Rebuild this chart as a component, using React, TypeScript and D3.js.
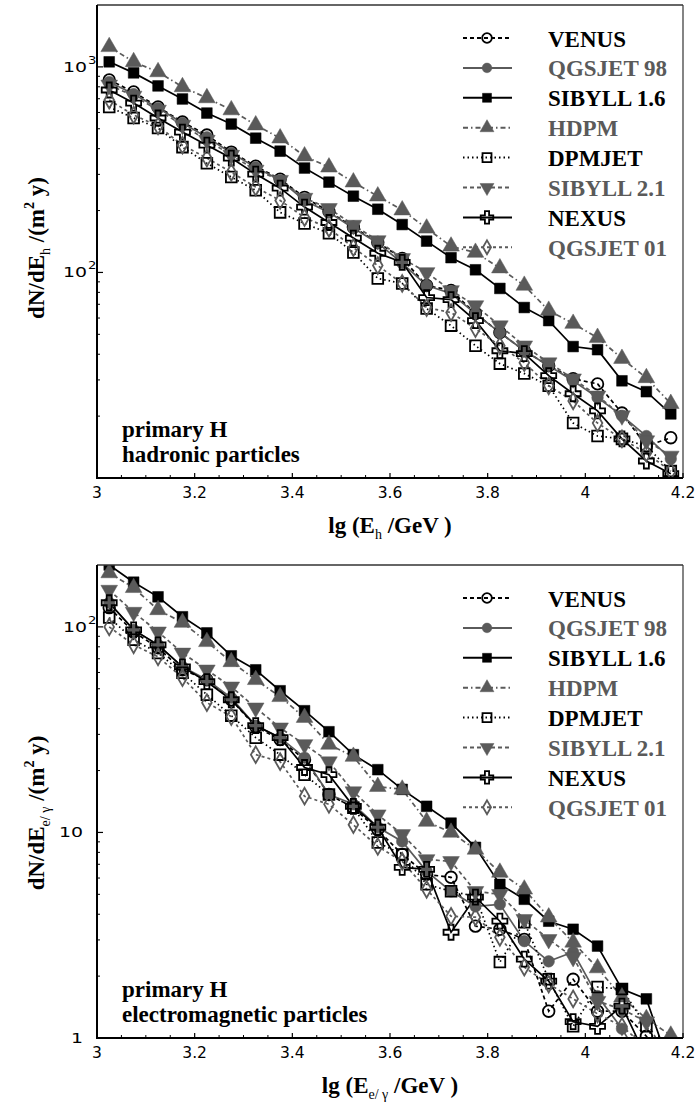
import React from "react";
import * as d3 from "d3";

// energy bins, lg(E/GeV)
const lgE = [3.025, 3.075, 3.125, 3.175, 3.225, 3.275, 3.325, 3.375, 3.425, 3.475, 3.525, 3.575,
  3.625, 3.675, 3.725, 3.775, 3.825, 3.875, 3.925, 3.975, 4.025, 4.075, 4.125, 4.175];

const models = ["VENUS", "QGSJET 98", "SIBYLL 1.6", "HDPM", "DPMJET", "SIBYLL 2.1", "NEXUS", "QGSJET 01"];

// hadronic particles, dN/dE_h  /(m^2 y)
const hadVenus = [864, 755, 638, 539, 466, 385, 329, 284, 232, 198, 166, 140, 117, 86.4, 81.7, 63.1, 51.0, 41.6, 35.2, 30.4, 28.7, 20.7, 14.3, 15.7];
const hadQgs98 = [845, 738, 631, 533, 455, 381, 325, 281, 224, 196, 164, 139, 111, 86.4, 79.0, 63.1, 51.0, 41.6, 35.2, 29.7, 24.6, 20.1, 16.0, 12.4];
const hadSib16 = [1058, 935, 808, 698, 596, 527, 450, 389, 322, 275, 235, 203, 171, 142, 118, 103, 83.6, 67.5, 58.3, 43.6, 42.1, 29.7, 26.3, 20.5];
const hadHdpm = [1252, 1058, 945, 799, 706, 617, 521, 450, 368, 325, 275, 235, 201, 164, 134, 125, 105, 86.4, 65.3, 56.4, 48.2, 38.1, 30.7, 23.0];
const hadDpmjet = [638, 564, 504, 407, 340, 291, 251, 196, 173, 155, 125, 93.5, 88.4, 66.7, 55.1, 44.0, 36.0, 32.2, 28.1, 18.5, 16.0, 15.5, 14.3, 10.8];
const hadSib21 = [817, 722, 617, 521, 440, 372, 315, 281, 230, 205, 170, 143, 117, 100, 81.7, 69.0, 55.1, 44.0, 36.4, 30.4, 25.1, 20.1, 15.2, 12.8];
const hadNexus = [772, 667, 564, 482, 416, 360, 301, 257, 208, 175, 147, 124, 112, 75.5, 73.8, 58.3, 41.6, 40.3, 31.5, 25.7, 21.2, 15.5, 12.1, 10.5];
const hadQgs01 = [690, 583, 516, 416, 360, 307, 260, 224, 185, 164, 132, 108, 88.4, 67.5, 63.8, 53.3, 44.0, 36.4, 28.1, 23.7, 18.5, 15.5, 13.2, 10.8];

// electromagnetic particles, dN/dE_e/g  /(m^2 y)
const emVenus = [124, 94.6, 79.1, 61.8, 55.3, 44.2, 32.7, 28.3, 22.6, 15.3, 13.2, 10.3, 7.82, 6.25, 6.05, 3.5, 3.38, 3.02, 1.35, 1.93, 1.35, 1.35, 1.02, 0.7];
const emQgs98 = [131, 96.7, 81.8, 63.9, 55.3, 45.2, 33.1, 28.9, 23.1, 15.3, 13.7, 10.6, 9.04, 6.47, 5.17, 4.37, 4.47, 2.96, 2.36, 2.62, 1.6, 1.11, 0.7, 0.5];
const emSib16 = [200, 165, 140, 112, 93.5, 72.3, 61.8, 48.9, 39.1, 30.9, 23.9, 20.2, 16.2, 13.4, 11.1, 8.46, 5.59, 4.73, 3.7, 3.38, 2.8, 1.73, 1.55, 0.7];
const emHdpm = [183, 155, 121, 105, 84.6, 67.6, 55.3, 45.7, 36.2, 26.8, 23.4, 16.7, 16.2, 11.3, 10.0, 8.27, 6.39, 5.29, 3.87, 2.92, 2.19, 1.58, 1.24, 1.03];
const emDpmjet = [111, 86.5, 74.7, 59.8, 46.8, 37.0, 28.9, 23.9, 19.1, 15.3, 13.2, 8.94, 7.82, 5.59, 5.17, 4.89, 2.34, 3.66, 1.93, 1.14, 1.77, 1.73, 1.14, 0.7];
const emSib21 = [151, 118, 94.6, 74.7, 61.8, 51.1, 40.4, 32.3, 26.8, 22.1, 15.8, 12.2, 9.78, 7.39, 7.23, 5.17, 5.0, 3.78, 3.02, 2.47, 1.51, 1.38, 1.2, 0.75];
const emNexus = [131, 96.7, 81.8, 63.9, 54.1, 44.2, 33.1, 28.9, 20.7, 19.1, 13.4, 10.6, 6.76, 6.61, 3.27, 4.84, 3.7, 2.42, 1.89, 1.2, 1.14, 1.43, 0.8, 0.6];
const emQgs01 = [100, 81.8, 71.5, 56.6, 42.8, 36.6, 23.9, 22.1, 15.0, 13.7, 10.9, 8.55, 7.23, 5.29, 3.91, 3.87, 3.09, 2.21, 1.83, 1.55, 1.31, 1.14, 0.9, 0.7];

const xTicks = [3, 3.2, 3.4, 3.6, 3.8, 4, 4.2];
const xTickLabels = ["3", "3.2", "3.4", "3.6", "3.8", "4", "4.2"];
const hadYTicks = [100, 1000];
const hadYLabels = ["10^2", "10^3"];
const emYTicks = [1, 10, 100];
const emYLabels = ["1", "10", "10^2"];

const hadSeries = [hadVenus, hadQgs98, hadSib16, hadHdpm, hadDpmjet, hadSib21, hadNexus, hadQgs01];
const emSeries = [emVenus, emQgs98, emSib16, emHdpm, emDpmjet, emSib21, emNexus, emQgs01];

const GRAY = "#5a5a5a";
const SERIF = "'Liberation Serif', 'Times New Roman', serif";
const SANS = "'DejaVu Sans', sans-serif";

const look: Record<string, any> = {
  "VENUS": { color: "#000", dash: "4,3", shape: "circle", open: true },
  "QGSJET 98": { color: GRAY, dash: null, shape: "circle", open: false },
  "SIBYLL 1.6": { color: "#000", dash: null, shape: "square", open: false },
  "HDPM": { color: GRAY, dash: "5,3,1.5,3", shape: "triUp", open: false },
  "DPMJET": { color: "#000", dash: "1.5,3", shape: "square", open: true },
  "SIBYLL 2.1": { color: GRAY, dash: "4,3", shape: "triDown", open: false },
  "NEXUS": { color: "#000", dash: null, shape: "cross", open: true },
  "QGSJET 01": { color: GRAY, dash: "3,3", shape: "diamond", open: true },
};

const symType: Record<string, any> = {
  circle: d3.symbolCircle,
  square: d3.symbolSquare,
  triUp: d3.symbolTriangle,
  triDown: d3.symbolTriangle,
  cross: d3.symbolCross,
  diamond: d3.symbolDiamond,
};
const symSize: Record<string, number> = { circle: 105, square: 115, triUp: 120, triDown: 120, cross: 125, diamond: 80 };

const X0 = 97;
const X1 = 683;

function Marker({ name, cx, cy, scale = 1 }: any) {
  const s = look[name];
  const d = d3.symbol().type(symType[s.shape]).size(symSize[s.shape] * scale)()!;
  const rot = s.shape === "triDown" ? " rotate(180)" : "";
  return (
    <path
      d={d}
      transform={`translate(${cx},${cy})${rot}`}
      fill={s.open ? "none" : s.color}
      stroke={s.color}
      strokeWidth={s.open ? 1.8 : 0.5}
    />
  );
}

function Panel({ id, top, bottom, yDomain, series, yTicks, yLabels, xTitleSub, yTitleSub, yTitleMid, notes }: any) {
  const x = d3.scaleLinear().domain([3, 4.2]).range([X0, X1]);
  const y = d3.scaleLog().domain(yDomain).range([bottom, top]);
  const line = d3.line<number>().x((_, i) => x(lgE[i])).y((d) => y(d));
  const minorY = y.ticks().filter((t) => !yTicks.includes(t) && t > yDomain[0] && t < yDomain[1]);
  const minorX = d3.range(3.05, 4.2, 0.05).filter((t) => Math.abs(Math.round(t * 5) - t * 5) > 0.01);
  const legTop = top + 33;
  const legStep = 29.9;

  return (
    <g>
      <defs>
        <clipPath id={id}>
          <rect x={X0} y={top} width={X1 - X0} height={bottom - top} />
        </clipPath>
      </defs>

      {/* data */}
      <g clipPath={`url(#${id})`}>
        {models.map((m, k) => (
          <path
            key={m}
            d={line(series[k])!}
            fill="none"
            stroke={look[m].color}
            strokeWidth={1.7}
            strokeDasharray={look[m].dash || undefined}
          />
        ))}
        {models.map((m, k) =>
          series[k].map((v: number, i: number) => (
            <Marker key={m + i} name={m} cx={x(lgE[i])} cy={y(v)} />
          ))
        )}
      </g>

      {/* frame */}
      <line x1={X0} x2={X1} y1={top} y2={top} stroke="#333" strokeWidth={1.4} />
      <line x1={X1} x2={X1} y1={top} y2={bottom} stroke="#333" strokeWidth={1.2} />
      <line x1={X0} x2={X0} y1={top} y2={bottom + 1} stroke="#000" strokeWidth={2} />
      <line x1={X0 - 1} x2={X1} y1={bottom} y2={bottom} stroke="#000" strokeWidth={2} />

      {/* y ticks */}
      {yTicks.map((t: number) => (
        <line key={"yt" + t} x1={X0} x2={X0 + 6} y1={y(t)} y2={y(t)} stroke="#000" strokeWidth={1.2} />
      ))}
      {minorY.map((t: number) => (
        <line key={"ym" + t} x1={X0} x2={X0 + 3} y1={y(t)} y2={y(t)} stroke="#000" strokeWidth={1} />
      ))}
      {yTicks.map((t: number, i: number) => {
        const [base, exp] = yLabels[i].split("^");
        return exp ? (
          <g key={"yl" + t} fontFamily={SANS}>
            <text transform={`translate(87,${y(t) + 5}) scale(1.35,1)`} textAnchor="end" fontSize={14}>{base}</text>
            <text transform={`translate(88,${y(t) - 3}) scale(1.2,1)`} fontSize={11}>{exp}</text>
          </g>
        ) : (
          <text key={"yl" + t} transform={`translate(83,${y(t) + 5}) scale(1.35,1)`} textAnchor="end" fontSize={14} fontFamily={SANS}>
            {base}
          </text>
        );
      })}

      {/* x ticks */}
      {xTicks.map((t) => (
        <line key={"xt" + t} x1={x(t)} x2={x(t)} y1={bottom} y2={bottom - 5} stroke="#000" strokeWidth={1.2} />
      ))}
      {minorX.map((t) => (
        <line key={"xm" + t} x1={x(t)} x2={x(t)} y1={bottom} y2={bottom - 3} stroke="#000" strokeWidth={1} />
      ))}
      {xTicks.map((t, i) => (
        <text key={"xl" + t} x={x(t)} y={bottom + 20} textAnchor="middle" fontSize={15.5} fontFamily={SANS}>
          {xTickLabels[i]}
        </text>
      ))}

      {/* axis titles */}
      <text x={390} y={bottom + 55} textAnchor="middle" fontFamily={SERIF} fontWeight="bold" fontSize={23}>
        lg (E
        <tspan dy={6} fontSize={14} fontWeight="normal">{xTitleSub}</tspan>
        <tspan dy={-6}> /GeV )</tspan>
      </text>
      <text
        transform={`translate(44,${yTitleMid}) rotate(-90)`}
        textAnchor="middle"
        fontFamily={SERIF}
        fontWeight="bold"
        fontSize={23}
      >
        dN/dE
        <tspan dy={6} fontSize={14} fontWeight="normal">{yTitleSub}</tspan>
        <tspan dy={-6}> /(m</tspan>
        <tspan dy={-10} fontSize={14}>2</tspan>
        <tspan dy={10}> y)</tspan>
      </text>

      {/* annotation */}
      {notes.map((n: string, i: number) => (
        <text key={n} x={122} y={bottom - 41 + i * 25} fontFamily={SERIF} fontWeight="bold" fontSize={23}>
          {n}
        </text>
      ))}

      {/* legend */}
      {models.map((m, k) => {
        const cy = legTop + k * legStep;
        return (
          <g key={"lg" + m}>
            <line x1={463} x2={512} y1={cy} y2={cy} stroke={look[m].color} strokeWidth={2} strokeDasharray={look[m].dash || undefined} />
            <Marker name={m} cx={487} cy={cy} scale={0.7} />
            <text x={548} y={cy + 8.5} fill={look[m].color === "#000" ? "#000" : GRAY} fontFamily={SERIF} fontWeight="bold" fontSize={23}>
              {m}
            </text>
          </g>
        );
      })}
    </g>
  );
}

export default function App() {
  return (
    <svg width={697} height={1106} style={{ position: "absolute", left: 0, top: 0, background: "#fff" }}>
      <rect width={697} height={1106} fill="#fff" />
      <Panel
        id="clipHad"
        top={5}
        bottom={478}
        yDomain={[10, 2000]}
        series={hadSeries}
        yTicks={hadYTicks}
        yLabels={hadYLabels}
        xTitleSub="h"
        yTitleSub="h"
        yTitleMid={248}
        notes={["primary H", "hadronic particles"]}
      />
      <Panel
        id="clipEm"
        top={565}
        bottom={1038}
        yDomain={[1, 200]}
        series={emSeries}
        yTicks={emYTicks}
        yLabels={emYLabels}
        xTitleSub="e/ γ"
        yTitleSub="e/ γ"
        yTitleMid={813}
        notes={["primary H", "electromagnetic particles"]}
      />
    </svg>
  );
}
